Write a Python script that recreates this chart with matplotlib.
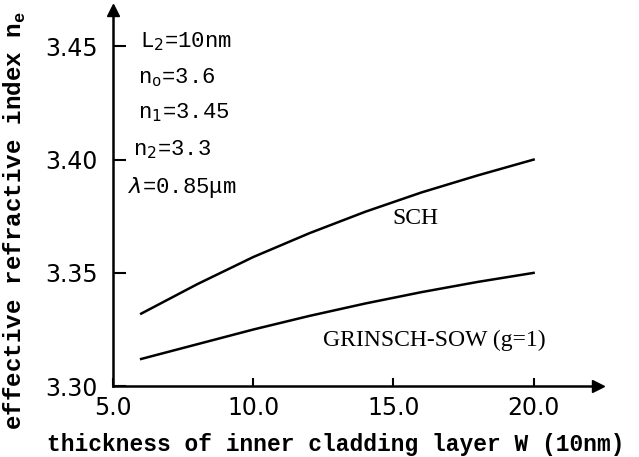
import numpy as np
import matplotlib.pyplot as plt

# -- data
w = [6, 8, 10, 12, 14, 16, 18, 20]
n_sch = [3.332, 3.345, 3.357, 3.3675, 3.377, 3.3855, 3.393, 3.400]
n_grinsch = [3.312, 3.3185, 3.325, 3.331, 3.3365, 3.3415, 3.346, 3.350]
xticks = [5.0, 10.0, 15.0, 20.0]
yticks = [3.30, 3.35, 3.40, 3.45]

fig = plt.figure(figsize=(6.39, 4.57), dpi=100)
ax = fig.add_axes([0.177, 0.155, 0.759, 0.823])

ax.plot(w, n_sch, color='black', lw=1.8)
ax.plot(w, n_grinsch, color='black', lw=1.8)

ax.set_xlim(5.0, 22.3)
ax.set_ylim(3.30, 3.466)
ax.set_xticks(xticks)
ax.set_xticklabels([f'{v:.1f}' for v in xticks], fontsize=17)
ax.set_yticks(yticks)
ax.set_yticklabels([f'{v:.2f}' for v in yticks], fontsize=17)
ax.tick_params(axis='y', direction='in', length=9, width=1.5, pad=11)
ax.tick_params(axis='x', direction='in', length=6, width=1.5, pad=7)

for s in ['top', 'right']:
    ax.spines[s].set_visible(False)
for s in ['left', 'bottom']:
    ax.spines[s].set_linewidth(1.8)

# -- axis arrows
ax.plot(1, 0, '>k', ms=9, transform=ax.transAxes, clip_on=False)
ax.plot(0, 1, '^k', ms=9, transform=ax.transAxes, clip_on=False)

ax.set_xlabel('thickness of inner cladding layer W (10nm)', family='Liberation Mono',
              weight='bold', fontsize=16.5)
ax.xaxis.set_label_coords(0.46, -0.125)
ax.set_ylabel('effective refractive index n$_{\\mathregular{e}}$', family='Liberation Mono',
              weight='bold', fontsize=17.5)
ax.yaxis.set_label_coords(-0.175, 0.44)

# -- curve labels
ax.text(14.96, 3.374, 'SCH', family='Liberation Serif', fontsize=17, va='center')
ax.text(12.5, 3.3203, 'GRINSCH-SOW (g=1)', family='Liberation Serif', fontsize=17, va='center')

# -- parameters
params = ['L$_2$=10nm', 'n$_{\\mathregular{o}}$=3.6', 'n$_1$=3.45', 'n$_2$=3.3', '$\\lambda$=0.85μm']
px = [5.96, 5.89, 5.89, 5.71, 5.54]
ys = [3.452, 3.436, 3.4205, 3.4045, 3.3875]
for p, x, y in zip(params, px, ys):
    ax.text(x, y, p, family='Liberation Mono', fontsize=16, va='center')

fig.savefig('out.png', dpi=100)
